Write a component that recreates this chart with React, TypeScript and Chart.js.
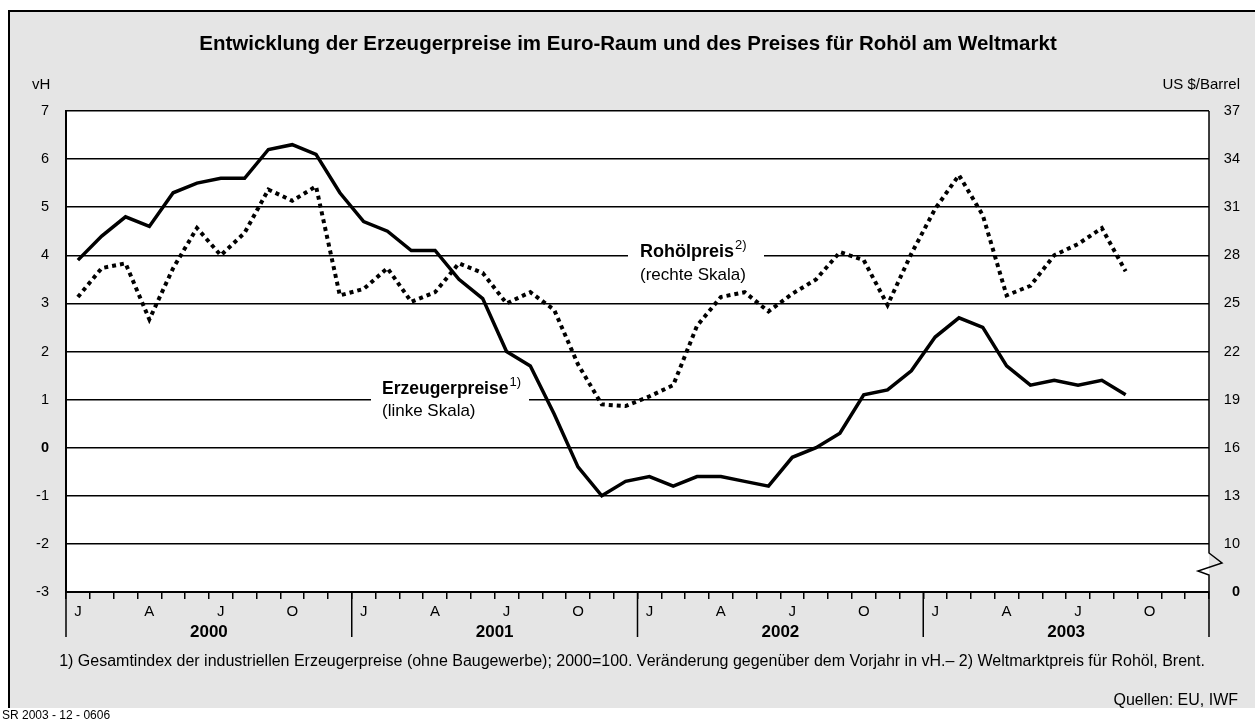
import React, { useEffect, useRef } from "react";
import { Chart, registerables } from "chart.js";

Chart.register(...registerables);

// ---- data ----
const monthLetters = ["J", "", "", "A", "", "", "J", "", "", "O", "", ""];
const years = ["2000", "2001", "2002", "2003"];
const categories = years.flatMap((y) => monthLetters.map((_, m) => `${y}-${m + 1}`));

// Erzeugerpreise, Veränderung gegenüber Vorjahr in vH (linke Skala)
const erzeugerpreise: (number | null)[] = [
  3.9, 4.4, 4.8, 4.6, 5.3, 5.5, 5.6, 5.6, 6.2, 6.3, 6.1, 5.3,
  4.7, 4.5, 4.1, 4.1, 3.5, 3.1, 2.0, 1.7, 0.7, -0.4, -1.0, -0.7,
  -0.6, -0.8, -0.6, -0.6, -0.7, -0.8, -0.2, 0.0, 0.3, 1.1, 1.2, 1.6,
  2.3, 2.7, 2.5, 1.7, 1.3, 1.4, 1.3, 1.4, 1.1, null, null, null,
];

// Rohölpreis Brent, US $/Barrel (rechte Skala)
const rohoelpreis: (number | null)[] = [
  25.4, 27.2, 27.5, 24.0, 27.2, 29.7, 28.0, 29.4, 32.1, 31.4, 32.3, 25.5,
  25.9, 27.2, 25.1, 25.7, 27.5, 26.9, 25.0, 25.7, 24.6, 21.2, 18.7, 18.6,
  19.2, 19.9, 23.6, 25.4, 25.7, 24.5, 25.6, 26.5, 28.2, 27.7, 24.9, 28.1,
  30.9, 33.0, 30.5, 25.5, 26.1, 28.0, 28.7, 29.7, 27.0, null, null, null,
];

const leftMin = -3;
const leftMax = 7;
const rightTickValues = [7, 10, 13, 16, 19, 22, 25, 28, 31, 34, 37];
const rightTickLabels = ["0", "10", "13", "16", "19", "22", "25", "28", "31", "34", "37"];

const titleText = "Entwicklung der Erzeugerpreise im Euro-Raum und des Preises für Rohöl am Weltmarkt";
const footnoteText =
  "1) Gesamtindex der industriellen Erzeugerpreise (ohne Baugewerbe); 2000=100. Veränderung gegenüber dem Vorjahr in vH.– 2) Weltmarktpreis für Rohöl, Brent.";
const sourceText = "Quellen: EU, IWF";
const codeText = "SR 2003 - 12 - 0606";

const FONT = "'Liberation Sans', Arial, Helvetica, sans-serif";
const GRAY = "#e5e5e5";

const decorPlugin = {
  id: "decor",
  beforeDraw(chart: any) {
    const { ctx, width, height, chartArea } = chart;
    ctx.save();
    ctx.fillStyle = "#ffffff";
    ctx.fillRect(0, 0, width, height);
    ctx.fillStyle = GRAY;
    ctx.fillRect(8, 10, width - 8, 698);
    ctx.strokeStyle = "#000";
    ctx.lineWidth = 2;
    ctx.beginPath();
    ctx.moveTo(9, 708);
    ctx.lineTo(9, 11);
    ctx.lineTo(width, 11);
    ctx.stroke();
    ctx.fillStyle = "#ffffff";
    ctx.fillRect(chartArea.left, chartArea.top, chartArea.right - chartArea.left, chartArea.bottom - chartArea.top);
    ctx.restore();
  },
  beforeDatasetsDraw(chart: any) {
    const { ctx } = chart;
    const yL = chart.scales.y;
    const yR = chart.scales.y1;
    ctx.save();
    // Rohölpreis label (gridline at 4 / 28)
    const yRoh = yR.getPixelForValue(28);
    ctx.fillStyle = "#fff";
    ctx.fillRect(628, yRoh - 14, 136, 40);
    ctx.fillStyle = "#000";
    ctx.textBaseline = "middle";
    ctx.textAlign = "left";
    ctx.font = `bold 18px ${FONT}`;
    ctx.fillText("Rohölpreis", 640, yRoh - 3);
    const w1 = ctx.measureText("Rohölpreis").width;
    ctx.font = `13px ${FONT}`;
    ctx.fillText("2)", 640 + w1 + 1, yRoh - 10);
    ctx.font = `17px ${FONT}`;
    ctx.fillText("(rechte Skala)", 640, yRoh + 20);

    // Erzeugerpreise label (gridline at 1)
    const yErz = yL.getPixelForValue(1);
    ctx.fillStyle = "#fff";
    ctx.fillRect(371, yErz - 22, 158, 40);
    ctx.fillStyle = "#000";
    ctx.font = `bold 17.5px ${FONT}`;
    ctx.fillText("Erzeugerpreise", 382, yErz - 10);
    const w2 = ctx.measureText("Erzeugerpreise").width;
    ctx.font = `13px ${FONT}`;
    ctx.fillText("1)", 382 + w2 + 1, yErz - 17);
    ctx.font = `17px ${FONT}`;
    ctx.fillText("(linke Skala)", 382, yErz + 12);
    ctx.restore();
  },
  afterDraw(chart: any) {
    const { ctx, chartArea } = chart;
    const x = chart.scales.x;
    ctx.save();
    ctx.fillStyle = "#000";
    ctx.textBaseline = "middle";

    // title
    ctx.textAlign = "center";
    ctx.font = `bold 20.5px ${FONT}`;
    ctx.fillText(titleText, 628, 44);

    // axis units
    ctx.font = `15px ${FONT}`;
    ctx.textAlign = "left";
    ctx.fillText("vH", 32, 85);
    ctx.textAlign = "right";
    ctx.fillText("US $/Barrel", 1240, 85);

    // year separators and labels
    const half = (x.getPixelForValue(1) - x.getPixelForValue(0)) / 2;
    ctx.strokeStyle = "#000";
    ctx.lineWidth = 1.5;
    for (let i = 0; i <= years.length; i++) {
      const idx = Math.min(i * 12, categories.length - 1);
      const px = i * 12 < categories.length ? x.getPixelForValue(idx) - half : x.getPixelForValue(idx) + half;
      ctx.beginPath();
      ctx.moveTo(px, chartArea.bottom);
      ctx.lineTo(px, chartArea.bottom + 45);
      ctx.stroke();
    }
    ctx.textAlign = "center";
    ctx.font = `bold 17px ${FONT}`;
    years.forEach((yr, i) => {
      const a = x.getPixelForValue(i * 12) - half;
      const b = x.getPixelForValue(i * 12 + 11) + half;
      ctx.fillText(yr, (a + b) / 2, chartArea.bottom + 40);
    });

    // right axis with break
    const rx = chartArea.right;
    const bot = chartArea.bottom;
    ctx.lineWidth = 1.5;
    ctx.beginPath();
    ctx.moveTo(rx, chartArea.top);
    ctx.lineTo(rx, bot - 39);
    ctx.lineTo(rx + 13, bot - 29);
    ctx.lineTo(rx - 11, bot - 21);
    ctx.lineTo(rx, bot - 17);
    ctx.lineTo(rx, bot);
    ctx.stroke();

    // footnotes
    ctx.font = `16px ${FONT}`;
    ctx.textAlign = "center";
    ctx.fillText(footnoteText, 632, 662);
    ctx.textAlign = "right";
    ctx.fillText(sourceText, 1238, 701);
    ctx.textAlign = "left";
    ctx.font = `12px ${FONT}`;
    ctx.fillText(codeText, 2, 716);
    ctx.restore();
  },
};

export default function App() {
  const ref = useRef<HTMLCanvasElement | null>(null);

  useEffect(() => {
    if (!ref.current) return;
    const tickFont = (bold: boolean) => ({ family: FONT, size: 14.5, weight: bold ? "bold" : "normal" });
    const chart = new Chart(ref.current, {
      type: "line",
      data: {
        labels: categories,
        datasets: [
          {
            label: "Erzeugerpreise",
            data: erzeugerpreise,
            yAxisID: "y",
            borderColor: "#000",
            borderWidth: 3.5,
            pointRadius: 0,
            tension: 0,
            spanGaps: false,
            borderJoinStyle: "miter",
          },
          {
            label: "Rohölpreis",
            data: rohoelpreis,
            yAxisID: "y1",
            borderColor: "#000",
            borderWidth: 4,
            borderDash: [4, 4],
            borderCapStyle: "butt",
            pointRadius: 0,
            tension: 0,
          },
        ],
      },
      options: {
        responsive: false,
        animation: false,
        devicePixelRatio: 1,
        layout: { padding: { left: 0, right: 15, top: 111, bottom: 0 } },
        plugins: { legend: { display: false }, title: { display: false }, tooltip: { enabled: false } },
        scales: {
          x: {
            type: "category",
            offset: true,
            grid: {
              offset: true,
              drawOnChartArea: false,
              color: "#000",
              lineWidth: 1.5,
              tickLength: 7,
            },
            border: { display: true, color: "#000", width: 2 },
            ticks: {
              autoSkip: false,
              maxRotation: 0,
              color: "#000",
              padding: 4,
              font: { family: FONT, size: 15 },
              callback: (_v: any, i: number) => monthLetters[i % 12],
            },
            afterFit: (s: any) => {
              s.height = 131;
            },
          },
          y: {
            position: "left",
            min: leftMin,
            max: leftMax,
            ticks: {
              stepSize: 1,
              color: "#000",
              padding: 17,
              font: (c: any) => tickFont(c.tick && c.tick.value === 0),
            },
            grid: { color: "#000", lineWidth: 1.5, drawTicks: false },
            border: { display: true, color: "#000", width: 2 },
            afterFit: (s: any) => {
              s.width = 66;
            },
          },
          y1: {
            position: "right",
            min: rightTickValues[0],
            max: rightTickValues[rightTickValues.length - 1],
            afterBuildTicks: (s: any) => {
              s.ticks = rightTickValues.map((v) => ({ value: v }));
            },
            ticks: {
              color: "#000",
              crossAlign: "far",
              padding: 0,
              font: (c: any) => tickFont(c.tick && c.tick.value === rightTickValues[0]),
              callback: (v: any) => {
                const i = rightTickValues.indexOf(Number(v));
                return i >= 0 ? rightTickLabels[i] : "";
              },
            },
            grid: { display: false, drawTicks: false },
            border: { display: false },
            afterFit: (s: any) => {
              s.width = 31;
            },
          },
        },
      },
      plugins: [decorPlugin],
    } as any);
    return () => chart.destroy();
  }, []);

  return (
    <div style={{ position: "absolute", left: 0, top: 0, width: 1255, height: 723 }}>
      <canvas ref={ref} width={1255} height={723} style={{ display: "block", width: 1255, height: 723 }} />
    </div>
  );
}
